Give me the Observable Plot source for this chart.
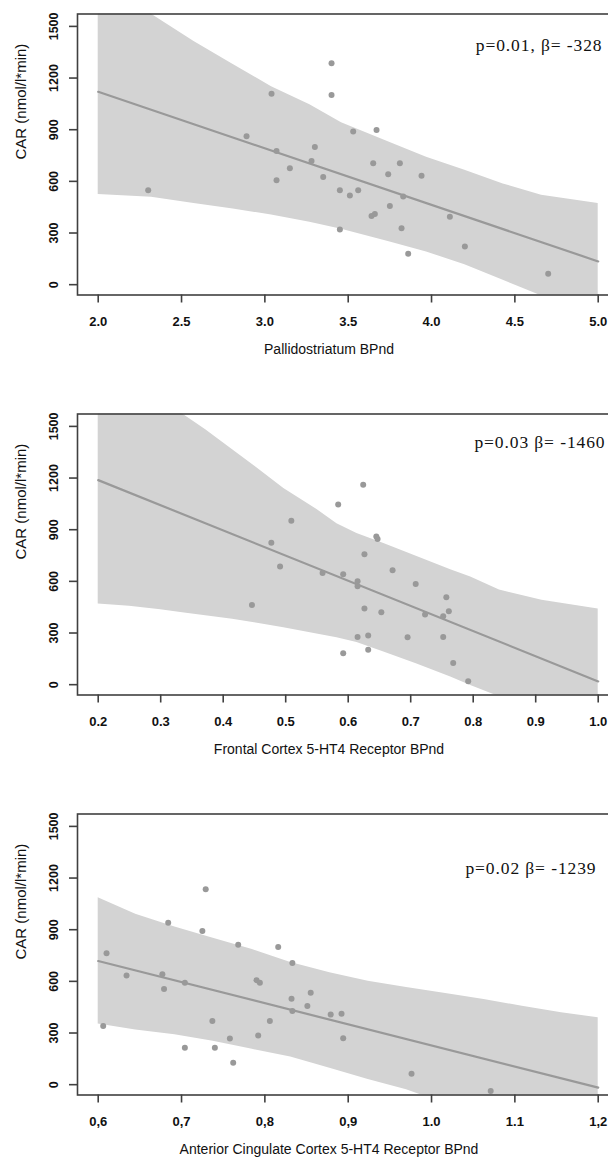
<!DOCTYPE html>
<html>
<head>
<meta charset="utf-8">
<script src="https://cdn.jsdelivr.net/npm/d3@7"></script>
<script src="https://cdn.jsdelivr.net/npm/@observablehq/plot@0.6"></script>
<style>
html, body { margin: 0; padding: 0; background: #fff; overflow: hidden; }
#wrap { width: 608px; overflow: hidden; }
#wrap svg { display: block; max-width: none !important; }
</style>
</head>
<body>
<div id="wrap"></div>
<script>
// ---------- shared ----------
const yTicks = [0, 300, 600, 900, 1200, 1500];
const yTickLabels = ["0", "300", "600", "900", "1200", "1500"];
const yLabel = "CAR (nmol/l*min)";

// ---------- panel 1: Pallidostriatum ----------
const xTicks1 = [2.0, 2.5, 3.0, 3.5, 4.0, 4.5, 5.0];
const xTickLabels1 = ["2.0", "2.5", "3.0", "3.5", "4.0", "4.5", "5.0"];
const xTitle1 = "Pallidostriatum BPnd";
const annot1 = "p=0.01, β= -328";
const ptsX1 = [2.30, 2.89, 3.04, 3.07, 3.07, 3.15, 3.28, 3.30, 3.35, 3.40, 3.40, 3.45, 3.45, 3.51, 3.53, 3.56, 3.64, 3.66, 3.65, 3.67, 3.74, 3.75, 3.81, 3.82, 3.83, 3.86, 3.94, 4.11, 4.20, 4.70];
const ptsY1 = [549, 862, 1109, 777, 607, 676, 718, 799, 626, 1286, 1101, 320, 549, 518, 889, 549, 399, 411, 705, 899, 641, 457, 705, 328, 512, 180, 633, 394, 222, 64];
const fitX1 = [2.0, 5.0];
const fitY1 = [1120, 135];
const bandX1 = [2.0, 2.32, 2.575, 2.81, 3.04, 3.27, 3.46, 3.74, 3.97, 4.2, 4.43, 4.66, 5.0];
const bandHi1 = [1760, 1570, 1413, 1278, 1150, 1045, 940, 830, 740, 665, 585, 520, 472];
const bandLo1 = [524, 508, 472, 440, 404, 362, 322, 250, 190, 115, 25, -65, -200];

// ---------- panel 2: Frontal Cortex ----------
const xTicks2 = [0.2, 0.3, 0.4, 0.5, 0.6, 0.7, 0.8, 0.9, 1.0];
const xTickLabels2 = ["0.2", "0.3", "0.4", "0.5", "0.6", "0.7", "0.8", "0.9", "1.0"];
const xTitle2 = "Frontal Cortex 5-HT4 Receptor BPnd";
const annot2 = "p=0.03 β= -1460";
const ptsX2 = [0.446, 0.477, 0.491, 0.509, 0.559, 0.584, 0.592, 0.592, 0.615, 0.615, 0.624, 0.626, 0.626, 0.615, 0.632, 0.632, 0.645, 0.647, 0.653, 0.671, 0.695, 0.708, 0.723, 0.752, 0.752, 0.757, 0.761, 0.768, 0.792];
const ptsY2 = [463, 824, 686, 952, 649, 1047, 642, 183, 601, 572, 1161, 758, 442, 277, 285, 203, 860, 846, 421, 665, 276, 585, 407, 398, 277, 508, 427, 126, 20];
const fitX2 = [0.2, 1.0];
const fitY2 = [1188, 19];
const bandX2 = [0.2, 0.25, 0.3, 0.335, 0.372, 0.415, 0.45, 0.497, 0.55, 0.582, 0.614, 0.657, 0.71, 0.764, 0.796, 0.842, 0.91, 1.0];
const bandHi2 = [1950, 1800, 1650, 1572, 1481, 1365, 1270, 1140, 1017, 935, 878, 820, 745, 668, 625, 550, 490, 440];
const bandLo2 = [469, 455, 435, 418, 400, 380, 360, 330, 295, 272, 245, 190, 120, 45, -5, -70, -200, -400];

// ---------- panel 3: Anterior Cingulate Cortex ----------
const xTicks3 = [0.6, 0.7, 0.8, 0.9, 1.0, 1.1, 1.2];
const xTickLabels3 = ["0,6", "0,7", "0,8", "0,9", "1.0", "1.1", "1,2"];
const xTitle3 = "Anterior Cingulate Cortex 5-HT4 Receptor BPnd";
const annot3 = "p=0.02 β= -1239";
const ptsX3 = [0.606, 0.610, 0.634, 0.677, 0.679, 0.684, 0.704, 0.704, 0.725, 0.729, 0.737, 0.740, 0.758, 0.762, 0.768, 0.790, 0.794, 0.792, 0.806, 0.816, 0.832, 0.833, 0.833, 0.851, 0.855, 0.879, 0.892, 0.894, 0.976, 1.071];
const ptsY3 = [341, 763, 634, 642, 555, 940, 592, 214, 892, 1135, 370, 214, 268, 127, 813, 607, 592, 285, 370, 800, 499, 706, 428, 457, 534, 407, 412, 270, 64, -37];
const fitX3 = [0.6, 1.2];
const fitY3 = [718, -17];
const bandX3 = [0.6, 0.645, 0.692, 0.738, 0.785, 0.831, 0.878, 0.924, 0.97, 1.017, 1.063, 1.109, 1.156, 1.2];
const bandHi3 = [1085, 990, 915, 850, 785, 710, 650, 600, 565, 530, 495, 455, 417, 389];
const bandLo3 = [352, 318, 290, 252, 205, 160, 95, 30, -30, -110, -190, -260, -330, -400];

// ---------- drawing ----------
const FRAME = "#404040";
const GREY = "#999999";

function lookup(ticks, labels) {
  return d => labels[ticks.findIndex(t => Math.abs(t - d) < 1e-9)];
}

function panel(cfg) {
  const a = cfg.xTicks[0], b = cfg.xTicks[cfg.xTicks.length - 1];
  const span = b - a;
  const xDomain = [a - span * 20.7 / 500, a + span * 521.3 / 500];
  const pts = cfg.px.map((x, i) => ({x, y: cfg.py[i]}));
  const band = cfg.bx.map((x, i) => ({x, lo: cfg.blo[i], hi: cfg.bhi[i]}));
  const fit = cfg.fx.map((x, i) => ({x, y: cfg.fy[i]}));
  const svg = Plot.plot({
    width: 620,
    height: 400,
    marginLeft: 77,
    marginRight: 1,
    marginTop: 13.5,
    marginBottom: 105.5,
    style: {fontFamily: "'Liberation Sans', Arial, sans-serif", background: "#fff", maxWidth: "none", color: "#111"},
    x: {domain: xDomain},
    y: {domain: [-60, 1572]},
    marks: [
      Plot.areaY(band, {x: "x", y1: "lo", y2: "hi", fill: "#d3d3d3", clip: true}),
      Plot.line(fit, {x: "x", y: "y", stroke: GREY, strokeWidth: 2.2, clip: true}),
      Plot.dot(pts, {x: "x", y: "y", r: 3, fill: GREY, clip: true}),
      Plot.frame({stroke: FRAME, strokeWidth: 1.6}),
      Plot.axisX({ticks: cfg.xTicks, tickFormat: lookup(cfg.xTicks, cfg.xTickLabels), tickSize: 8, tickPadding: 14, label: null,
        fontSize: 13, stroke: FRAME, strokeWidth: 1.6}),
      Plot.axisY({ticks: yTicks, tickFormat: lookup(yTicks, yTickLabels), tickSize: 8, tickRotate: -90, tickPadding: 11.5, label: null,
        fontSize: 12.5, stroke: FRAME, strokeWidth: 1.6}),
      Plot.text([cfg.xTitle], {frameAnchor: "bottom", dy: 55, dx: -19.5, lineAnchor: "middle", fontSize: 14}),
      Plot.text([yLabel], {frameAnchor: "left", rotate: -90, dx: -56, dy: 5, fontSize: 15}),
      Plot.text([cfg.annot], {frameAnchor: "top-right", dx: cfg.adx, dy: cfg.ady, textAnchor: "end", lineAnchor: "middle",
        fontFamily: "'Liberation Serif', 'Times New Roman', serif", fontSize: 17.5})
    ]
  });
  svg.style.maxWidth = "none";
  // bold tick labels like the reference
  d3.select(svg).selectAll("g[aria-label='x-axis tick label'], g[aria-label='y-axis tick label']")
    .attr("font-weight", "bold");
  d3.select(svg).selectAll("text")
    .filter(function() { return this.textContent.startsWith("p="); })
    .attr("letter-spacing", "0.9px");
  return svg;
}

const wrap = document.getElementById("wrap");
wrap.appendChild(panel({xTicks: xTicks1, xTickLabels: xTickLabels1, xTitle: xTitle1, annot: annot1, adx: -17, ady: 31.5,
  px: ptsX1, py: ptsY1, fx: fitX1, fy: fitY1, bx: bandX1, bhi: bandHi1, blo: bandLo1}));
wrap.appendChild(panel({xTicks: xTicks2, xTickLabels: xTickLabels2, xTitle: xTitle2, annot: annot2, adx: -14, ady: 28,
  px: ptsX2, py: ptsY2, fx: fitX2, fy: fitY2, bx: bandX2, bhi: bandHi2, blo: bandLo2}));
wrap.appendChild(panel({xTicks: xTicks3, xTickLabels: xTickLabels3, xTitle: xTitle3, annot: annot3, adx: -23, ady: 54,
  px: ptsX3, py: ptsY3, fx: fitX3, fy: fitY3, bx: bandX3, bhi: bandHi3, blo: bandLo3}));
</script>
</body>
</html>
